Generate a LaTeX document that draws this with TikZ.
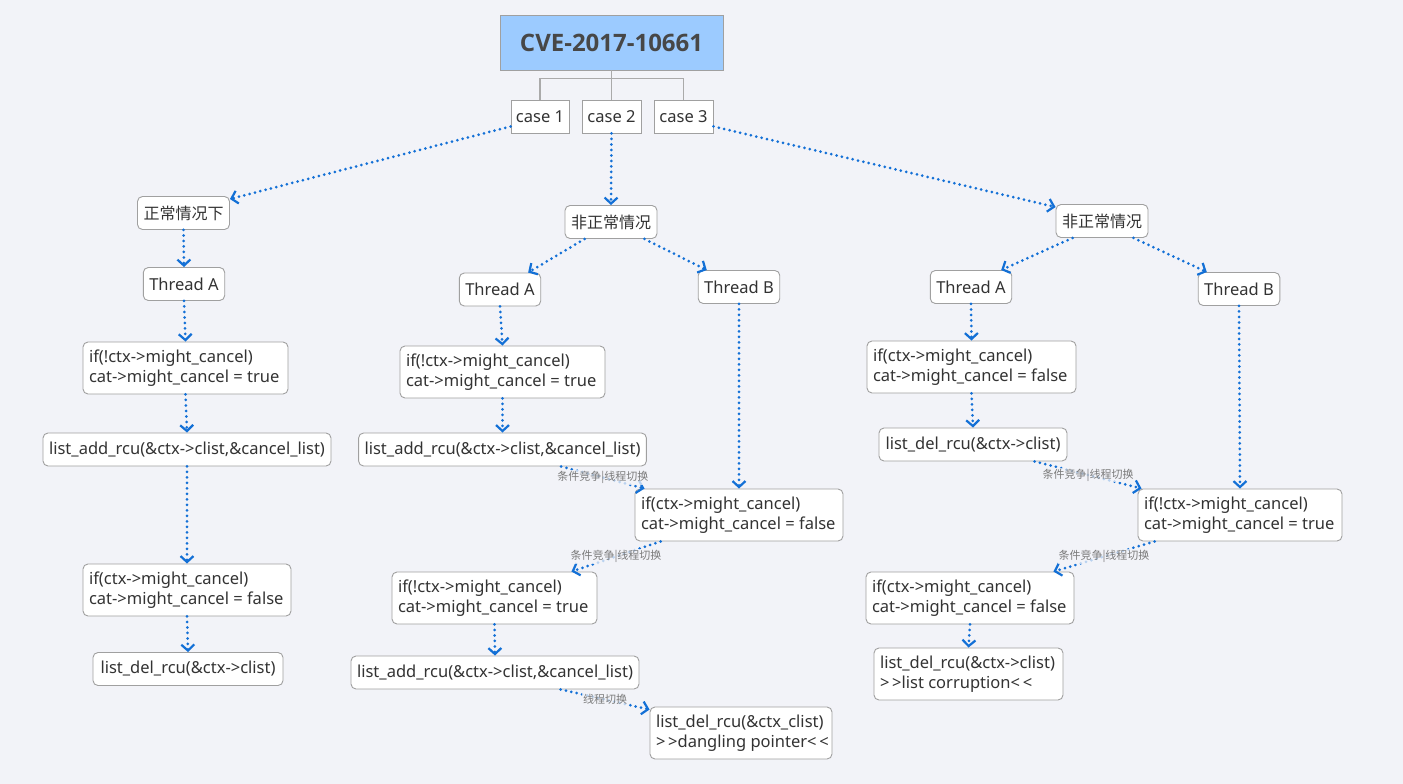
\documentclass[tikz,border=0pt]{standalone}
\usepackage{fontspec}
\setmainfont{Noto Sans}
\newfontfamily\cjk{Noto Sans CJK SC}
\newfontfamily\titlefont{Open Sans}
\usetikzlibrary{arrows.meta,calc}
\definecolor{bg}{HTML}{F2F3F8}
\definecolor{edgeblue}{HTML}{1370D6}
\definecolor{txt}{HTML}{333333}
\definecolor{bord}{HTML}{A0A0A0}
\definecolor{titlefill}{HTML}{9CCBFF}
\definecolor{lblgray}{HTML}{7A7A7A}
\newcommand{\twolines}[3]{\makebox[#1][l]{\begin{tabular}{@{}l@{}}#2\\#3\end{tabular}}}
\begin{document}
\begin{tikzpicture}[x=1pt,y=-1pt,
  box/.style={draw=bord, line width=0.9pt, fill=white, rounded corners=5pt, text=txt,
    font=\fontsize{16.5}{20}\selectfont, inner xsep=6pt, inner ysep=0pt, align=left},
  one/.style={minimum width=#1, minimum height=33pt},
  two/.style={minimum width=#1, minimum height=52pt},
  casebox/.style={draw=bord, line width=0.9pt, fill=white, text=txt,
    font=\fontsize{16.5}{20}\selectfont, inner xsep=4pt, minimum height=33pt},
  titlebox/.style={draw=bord, line width=0.9pt, fill=titlefill, text=txt!90,
    font=\titlefont\bfseries\fontsize{24}{28}\selectfont, minimum width=223pt, minimum height=55pt},
  tree/.style={draw=bord!90, line width=1.1pt},
  flow/.style={draw=edgeblue, line width=3pt, line cap=round, dash pattern=on 0pt off 5.5pt,
    -{Straight Barb[length=6pt,width=13pt,line width=2.2pt]}},
  lbl/.style={font=\cjk\fontsize{11}{13}\selectfont, text=lblgray, fill=bg, fill opacity=.75,
    text opacity=1, inner sep=1pt}
]
\useasboundingbox[fill=bg] (0,0) rectangle (1403,784);

% title and cases
\node[titlebox] (title) at (611.5,42.5) {CVE-2017-10661};
\node[casebox, minimum width=58pt] (c1) at (540,116.5) {case 1};
\node[casebox, minimum width=59pt] (c2) at (611.5,116.5) {case 2};
\node[casebox, minimum width=59pt] (c3) at (683.5,116.5) {case 3};
\draw[tree] (title.south) -- (c2.north);
\draw[tree] (title.south) -- ++(0,8) -| (c1.north);
\draw[tree] (title.south) -- ++(0,8) -| (c3.north);

% left column
\node[box, one=91pt, font=\cjk\fontsize{16}{20}\selectfont] (n1) at (183.5,213) {正常情况下};
\node[box, one=80pt] (lta) at (184,284) {Thread A};
\node[box, two=205pt] (lif1) at (185.5,368) {\twolines{193pt}{if(!ctx->might\_cancel)}{cat->might\_cancel = true}};
\node[box, one=288pt] (lla) at (187,449.5) {list\_add\_rcu(\&ctx->clist,\&cancel\_list)};
\node[box, two=208pt] (lif2) at (187,590) {\twolines{196pt}{if(ctx->might\_cancel)}{cat->might\_cancel = false}};
\node[box, one=190pt] (ldel) at (188,669) {list\_del\_rcu(\&ctx->clist)};

% middle column
\node[box, one=92pt, font=\cjk\fontsize{16}{20}\selectfont] (n2) at (611,222) {非正常情况};
\node[box, one=80pt] (mta) at (500,289.5) {Thread A};
\node[box, one=80pt] (mtb) at (739,287) {Thread B};
\node[box, two=205pt] (mif1) at (502.5,372) {\twolines{193pt}{if(!ctx->might\_cancel)}{cat->might\_cancel = true}};
\node[box, one=287pt] (mla) at (502.5,449.5) {list\_add\_rcu(\&ctx->clist,\&cancel\_list)};
\node[box, two=208pt] (mif2) at (739,515) {\twolines{196pt}{if(ctx->might\_cancel)}{cat->might\_cancel = false}};
\node[box, two=205pt] (mif3) at (494.5,598) {\twolines{193pt}{if(!ctx->might\_cancel)}{cat->might\_cancel = true}};
\node[box, one=288pt] (mla2) at (495,672.5) {list\_add\_rcu(\&ctx->clist,\&cancel\_list)};
\node[box, two=182pt] (mdel) at (741,733) {\twolines{170pt}{list\_del\_rcu(\&ctx\_clist)}{>\,>dangling pointer<\,<}};

% right column
\node[box, one=92pt, font=\cjk\fontsize{16}{20}\selectfont] (n3) at (1102,221) {非正常情况};
\node[box, one=80pt] (rta) at (971,287) {Thread A};
\node[box, one=80pt] (rtb) at (1239,289) {Thread B};
\node[box, two=209pt] (rif1) at (971.5,367) {\twolines{197pt}{if(ctx->might\_cancel)}{cat->might\_cancel = false}};
\node[box, one=188pt] (rdel) at (973,444.5) {list\_del\_rcu(\&ctx->clist)};
\node[box, two=204pt] (rif2) at (1240,515) {\twolines{192pt}{if(!ctx->might\_cancel)}{cat->might\_cancel = true}};
\node[box, two=208pt] (rif3) at (970,598) {\twolines{196pt}{if(ctx->might\_cancel)}{cat->might\_cancel = false}};
\node[box, two=189pt] (rdel2) at (968.5,674) {\twolines{177pt}{list\_del\_rcu(\&ctx->clist)}{>\,>list corruption<\,<}};

% case connectors
\draw[flow] ($(c1.south west)+(0,-7)$) -- ($(n1.north east)+(0,3)$);
\draw[flow] (c2.south) -- (n2.north);
\draw[flow] ($(c3.south east)+(0,-7)$) -- ($(n3.north west)+(0,3)$);

% left flows
\draw[flow] (n1.south) -- (lta.north);
\draw[flow] (lta.south) -- (lif1.north);
\draw[flow] (lif1.south) -- (lla.north);
\draw[flow] (lla.south) -- (lif2.north);
\draw[flow] (lif2.south) -- (ldel.north);

% middle flows
\draw[flow] ($(n2.south west)+(20,0)$) -- ($(mta.north east)+(-13,0)$);
\draw[flow] ($(n2.south east)+(-13,0)$) -- ($(mtb.north west)+(9,0)$);
\draw[flow] (mta.south) -- (mif1.north);
\draw[flow] (mif1.south) -- (mla.north);
\draw[flow] (mtb.south) -- (mif2.north);
\draw[flow] ($(mla.south west)+(203,0)$) -- node[lbl]{条件竞争|线程切换} ($(mif2.north west)+(10,0)$);
\draw[flow] ($(mif2.south west)+(26,0)$) -- node[lbl]{条件竞争|线程切换} ($(mif3.north east)+(-26,0)$);
\draw[flow] (mif3.south) -- (mla2.north);
\draw[flow] ($(mla2.south west)+(210,0)$) -- node[lbl]{线程切换} ($(mdel.north west)+(0,3)$);

% right flows
\draw[flow] ($(n3.south west)+(17,0)$) -- ($(rta.north east)+(-11,0)$);
\draw[flow] ($(n3.south east)+(-15,0)$) -- ($(rtb.north west)+(9,0)$);
\draw[flow] (rta.south) -- (rif1.north);
\draw[flow] (rif1.south) -- (rdel.north);
\draw[flow] (rtb.south) -- (rif2.north);
\draw[flow] ($(rdel.south west)+(156,0)$) -- node[lbl]{条件竞争|线程切换} ($(rif2.north west)+(4,0)$);
\draw[flow] ($(rif2.south west)+(17,0)$) -- node[lbl]{条件竞争|线程切换} ($(rif3.north east)+(-21,0)$);
\draw[flow] (rif3.south) -- (rdel2.north);
\end{tikzpicture}
\end{document}
